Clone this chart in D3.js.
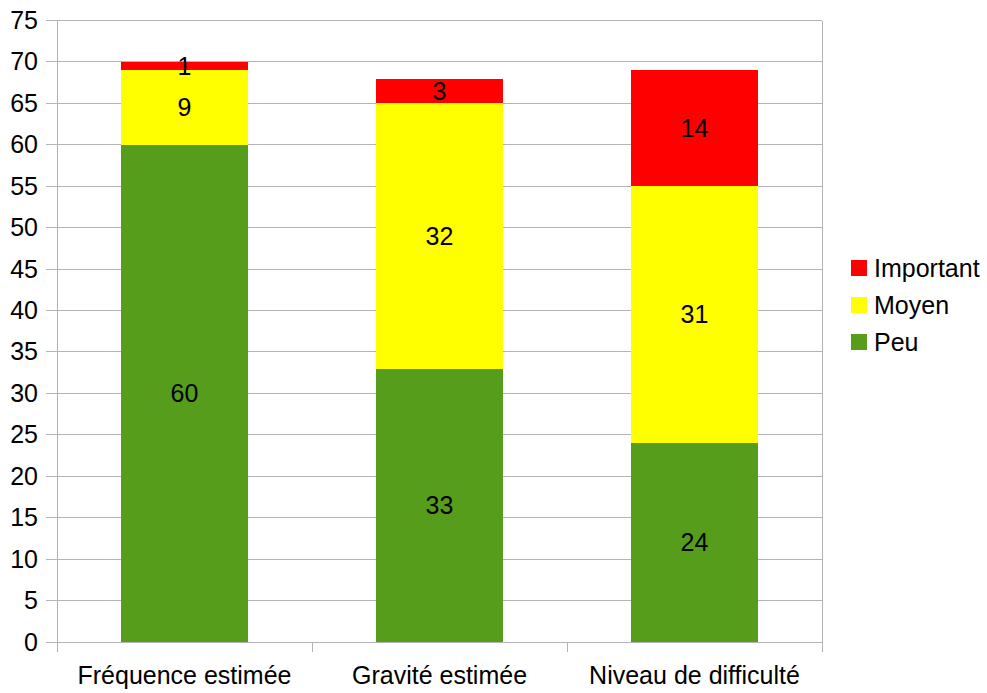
<!DOCTYPE html>
<html><head><meta charset="utf-8">
<script src="https://cdn.jsdelivr.net/npm/d3@7"></script>
<style>body{margin:0;background:#fff;} text{font-family:"Liberation Sans",Arial,sans-serif;}</style>
</head><body>
<svg id="c" width="987" height="693"></svg>
<script>
const categories = ["Fréquence estimée", "Gravité estimée", "Niveau de difficulté"];
const peu = [60, 33, 24];
const moyen = [9, 32, 31];
const important = [1, 3, 14];
const seriesNames = ["Peu", "Moyen", "Important"];
const colors = ["#579d1c", "#ffff00", "#ff0000"];
const yTicks = d3.range(0, 80, 5);

(function () {
const FS = 25;
const svg = d3.select("#c");
const pLeft = 57, pRight = 822, pTop = 20.5, pBottom = 642;
const x = d3.scaleBand().domain(categories).range([pLeft, pRight]).paddingInner(0.5).paddingOuter(0.25);
const y = d3.scaleLinear().domain([0, 75]).range([pBottom, pTop]);

// gridlines
svg.append("g").selectAll("line").data(yTicks).join("line")
  .attr("x1", pLeft - 11).attr("x2", pRight).attr("y1", d => y(d)).attr("y2", d => y(d))
  .attr("stroke", "#b3b3b3").attr("stroke-width", 1).attr("shape-rendering", "crispEdges");
// right border
svg.append("line").attr("x1", pRight).attr("x2", pRight).attr("y1", pTop).attr("y2", pBottom + 10)
  .attr("stroke", "#b3b3b3").attr("shape-rendering", "crispEdges");

const data = categories.map((c, i) => ({cat: c, Peu: peu[i], Moyen: moyen[i], Important: important[i]}));
const stack = d3.stack().keys(seriesNames)(data);

svg.append("g").selectAll("g").data(stack).join("g")
  .attr("fill", (d, i) => colors[i])
  .selectAll("rect").data(d => d).join("rect")
  .attr("x", d => x(d.data.cat)).attr("width", x.bandwidth())
  .attr("y", d => y(d[1])).attr("height", d => y(d[0]) - y(d[1]))
  .attr("shape-rendering", "crispEdges");

// data labels
svg.append("g").selectAll("g").data(stack).join("g")
  .selectAll("text").data(d => d.map(v => ({v, key: d.key}))).join("text")
  .attr("x", d => x(d.v.data.cat) + x.bandwidth() / 2)
  .attr("y", d => y((d.v[0] + d.v[1]) / 2))
  .attr("dy", "0.35em").attr("text-anchor", "middle")
  .attr("font-size", FS).attr("fill", "#000")
  .text(d => d.v.data[d.key]);

// y axis
const yAxis = svg.append("g").attr("transform", `translate(${pLeft},0)`)
  .call(d3.axisLeft(y).tickValues(yTicks).tickSize(11).tickPadding(8));
yAxis.select(".domain").remove();
yAxis.selectAll("line").remove();
yAxis.selectAll("text").attr("font-size", FS).attr("fill", "#000").attr("font-family", "Liberation Sans, Arial, sans-serif");
svg.append("line").attr("x1", pLeft).attr("x2", pLeft).attr("y1", pTop).attr("y2", pBottom + 10)
  .attr("stroke", "#b3b3b3").attr("shape-rendering", "crispEdges");

// x axis
const step = (pRight - pLeft) / categories.length;
svg.append("g").selectAll("line").data(d3.range(categories.length + 1)).join("line")
  .attr("x1", i => pLeft + i * step).attr("x2", i => pLeft + i * step)
  .attr("y1", pBottom).attr("y2", pBottom + 10)
  .attr("stroke", "#b3b3b3").attr("shape-rendering", "crispEdges");
svg.append("g").selectAll("text").data(categories).join("text")
  .attr("x", d => x(d) + x.bandwidth() / 2).attr("y", 684)
  .attr("text-anchor", "middle").attr("font-size", FS).attr("fill", "#000")
  .text(d => d);

// legend
const legendOrder = [2, 1, 0];
const lg = svg.append("g");
legendOrder.forEach((si, k) => {
  const yy = 260 + k * 37;
  lg.append("rect").attr("x", 851).attr("y", yy).attr("width", 16).attr("height", 16).attr("fill", colors[si]);
  lg.append("text").attr("x", 874).attr("y", yy + 8).attr("dy", "0.35em")
    .attr("font-size", FS).attr("fill", "#000").text(seriesNames[si]);
});
})();
</script>
</body></html>
